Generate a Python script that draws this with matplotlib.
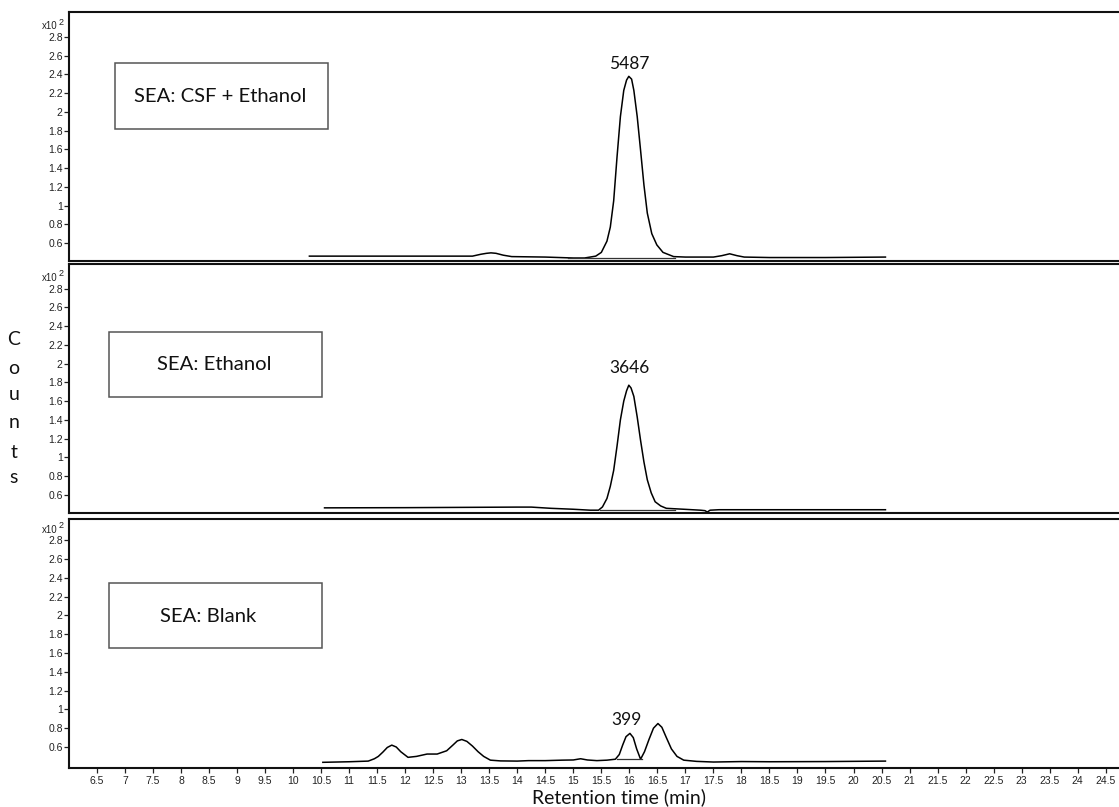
import matplotlib
matplotlib.use("Agg")
import matplotlib.pyplot as plt
from matplotlib.patches import Rectangle
import matplotlib.transforms as mtransforms

# ---------------- data ----------------
panel_titles = ["SEA: CSF + Ethanol", "SEA: Ethanol", "SEA: Blank"]
peak_labels = ["5487", "3646", "399"]
peak_label_x = [16.0, 16.0, 15.95]
peak_label_y = [2.43, 1.87, 0.80]

csf_x = [10.29, 13.2, 13.35, 13.45, 13.53, 13.62, 13.75, 13.9, 14.5, 15.0, 15.2, 15.4,
         15.5, 15.6, 15.66, 15.72, 15.78, 15.84, 15.9, 15.95, 15.99, 16.04, 16.08, 16.14,
         16.2, 16.26, 16.32, 16.4, 16.49, 16.6, 16.79, 17.0, 17.5, 17.65, 17.79, 17.92,
         18.05, 18.5, 19.5, 20.57]
csf_y = [0.46, 0.46, 0.48, 0.49, 0.495, 0.49, 0.47, 0.455, 0.45, 0.44, 0.44, 0.46,
         0.50, 0.62, 0.77, 1.05, 1.52, 1.95, 2.23, 2.34, 2.38, 2.35, 2.23, 1.95,
         1.59, 1.22, 0.92, 0.70, 0.58, 0.50, 0.455, 0.45, 0.45, 0.465, 0.485, 0.465,
         0.45, 0.445, 0.445, 0.45]
csf_base_x = [14.9, 16.82]
csf_base_y = [0.437, 0.437]

eth_x = [10.56, 12.0, 13.0, 14.0, 14.25, 14.6, 15.0, 15.3, 15.45, 15.52, 15.6, 15.66,
         15.72, 15.78, 15.84, 15.9, 15.95, 15.99, 16.03, 16.08, 16.14, 16.2, 16.26, 16.32,
         16.39, 16.46, 16.56, 16.66, 16.97, 17.27, 17.35, 17.39, 17.44, 17.6, 18.5, 19.5,
         20.57]
eth_y = [0.46, 0.462, 0.465, 0.468, 0.468, 0.455, 0.445, 0.435, 0.435, 0.47, 0.56, 0.69,
         0.86, 1.12, 1.40, 1.60, 1.71, 1.77, 1.74, 1.65, 1.43, 1.18, 0.95, 0.76,
         0.62, 0.525, 0.48, 0.455, 0.445, 0.435, 0.43, 0.415, 0.435, 0.44, 0.44, 0.44,
         0.44]
eth_base_x = [15.48, 16.82]
eth_base_y = [0.435, 0.435]

blank_x = [10.53, 11.0, 11.34, 11.45, 11.52, 11.6, 11.68, 11.76, 11.84, 11.92, 12.05, 12.2,
           12.39, 12.57, 12.74, 12.85, 12.93, 13.01, 13.1, 13.2, 13.3, 13.4, 13.52, 13.7,
           14.0, 14.2, 14.5, 14.8, 15.0, 15.13, 15.25, 15.42, 15.6, 15.75, 15.82, 15.88,
           15.94, 16.01, 16.07, 16.13, 16.2, 16.27, 16.35, 16.43, 16.51, 16.58, 16.66, 16.75,
           16.85, 16.97, 17.2, 17.5, 18.0, 18.5, 19.5, 20.57]
blank_y = [0.437, 0.443, 0.45, 0.475, 0.50, 0.545, 0.595, 0.62, 0.60, 0.55, 0.49, 0.50,
           0.525, 0.525, 0.56, 0.62, 0.665, 0.68, 0.66, 0.61, 0.55, 0.50, 0.46, 0.452,
           0.45, 0.455, 0.455, 0.46, 0.462, 0.475, 0.462, 0.455, 0.46, 0.47, 0.52, 0.62,
           0.71, 0.745, 0.70, 0.58, 0.47, 0.55, 0.68, 0.80, 0.85, 0.81, 0.70, 0.58,
           0.50, 0.46, 0.447, 0.44, 0.445, 0.443, 0.445, 0.45]
blank_base_x = [15.78, 16.23]
blank_base_y = [0.47, 0.47]

y_ticks = [0.6, 0.8, 1.0, 1.2, 1.4, 1.6, 1.8, 2.0, 2.2, 2.4, 2.6, 2.8]
y_tick_labels = ["0.6", "0.8", "1", "1.2", "1.4", "1.6", "1.8", "2", "2.2", "2.4", "2.6", "2.8"]
x_ticks = [6.5 + 0.5 * i for i in range(37)]
x_tick_labels = [("%g" % v) for v in x_ticks]

# ---------------- layout ----------------
W, H = 1119, 807
fig = plt.figure(figsize=(W / 100, H / 100), dpi=100)

label_font = ["Lato", "DejaVu Sans"]
tick_font = ["Liberation Sans", "DejaVu Sans"]

panels = [
    dict(x=csf_x, y=csf_y, bx=csf_base_x, by=csf_base_y, top=12, bot=261, ylim=(0.408, 3.067),
         box=(115, 63, 328, 129), txt=(220, 96)),
    dict(x=eth_x, y=eth_y, bx=eth_base_x, by=eth_base_y, top=264, bot=513, ylim=(0.405, 3.064),
         box=(109, 332, 322, 397), txt=(214, 364)),
    dict(x=blank_x, y=blank_y, bx=blank_base_x, by=blank_base_y, top=519, bot=768,
         ylim=(0.3765, 3.027), box=(109, 583, 322, 648), txt=(208, 616)),
]

left_px = 69
for i, p in enumerate(panels):
    ax = fig.add_axes([left_px / W, 1 - p["bot"] / H, (W - left_px) / W + 0.01,
                       (p["bot"] - p["top"]) / H])
    ax.plot(p["x"], p["y"], color="black", lw=1.1, solid_joinstyle="round")
    ax.plot(p["bx"], p["by"], color="#333333", lw=0.9)
    ax.set_xlim(6.0, 6.0 + (W - left_px) * 1.01 / 56.0)
    ax.set_ylim(*p["ylim"])
    ax.set_yticks(y_ticks)
    ax.set_yticklabels(y_tick_labels, fontfamily=tick_font, fontsize=7.5, color="#222222")
    ax.tick_params(axis="y", length=3.5, width=0.9, pad=1, colors="#222222")
    if i < 2:
        ax.set_xticks([])
    else:
        ax.set_xticks(x_ticks)
        ax.set_xticklabels(x_tick_labels, fontfamily=tick_font, fontsize=7.5, color="#222222")
        ax.tick_params(axis="x", length=3.5, width=0.9, pad=2.5, colors="#222222")
    for s in ["left", "top", "bottom"]:
        ax.spines[s].set_linewidth(1.5)
        ax.spines[s].set_color("#111111")
    ax.spines["right"].set_visible(False)

    # multiplier label
    trans = mtransforms.blended_transform_factory(ax.transAxes, ax.transData)
    ax.text(-11.0 / (W - left_px), 2.915, "x10", transform=trans, ha="right", va="center",
            fontsize=7, fontfamily=tick_font, color="#222222")
    ax.text(-10.0 / (W - left_px), 2.96, "2", transform=trans, ha="left", va="center",
            fontsize=6.5, fontfamily=tick_font, color="#222222")

    # peak label
    ax.text(peak_label_x[i], peak_label_y[i], peak_labels[i], ha="center", va="bottom",
            fontsize=12.5, fontfamily=label_font, color="#111111")

    # title box (figure pixel coordinates)
    x0, y0, x1, y1 = p["box"]
    fig.add_artist(Rectangle((x0 / W, 1 - y1 / H), (x1 - x0) / W, (y1 - y0) / H,
                             transform=fig.transFigure, fill=False, edgecolor="#555555",
                             lw=1.1))
    fig.text(p["txt"][0] / W, 1 - p["txt"][1] / H, panel_titles[i], ha="center", va="center",
             fontsize=14.6, fontfamily=label_font, color="#111111")

# vertical "Counts"
for ch, yy in zip("Counts", [340, 368, 395, 423, 452, 478]):
    fig.text(14 / W, 1 - yy / H, ch, ha="center", va="center", fontsize=14,
             fontfamily=label_font, color="#111111")

fig.text(619 / W, 1 - 797 / H, "Retention time (min)", ha="center", va="center",
         fontsize=14, fontfamily=label_font, color="#111111")

fig.savefig("out.png", dpi=100)
